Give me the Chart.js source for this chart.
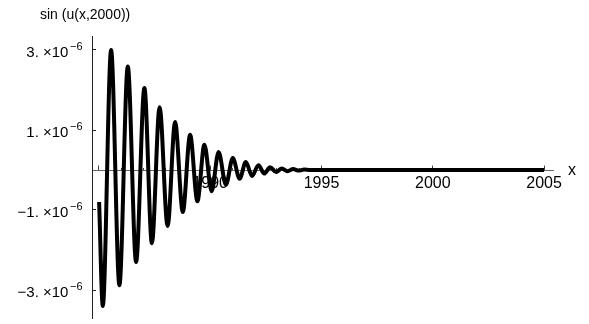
<!DOCTYPE html>
<html><head><meta charset="utf-8">
<script src="https://cdn.jsdelivr.net/npm/chart.js@4/dist/chart.umd.min.js"></script>
<style>html,body{margin:0;padding:0;background:#fff;}canvas{display:block;}</style>
</head><body>
<canvas id="c" width="589" height="324"></canvas>
<script>
// ---- data ----
const xYears = [1985.01, 1985.175, 1985.548, 1985.921, 1986.298, 1986.671, 1987.044, 1987.381,
  1987.727, 1988.086, 1988.423, 1988.769, 1989.097, 1989.425, 1989.739, 1990.063, 1990.377,
  1990.705, 1991.015, 1991.321, 1991.599, 1991.882, 1992.165, 1992.430, 1992.691, 1992.960,
  1993.217, 1993.473, 1993.724, 1993.976, 1994.218, 1994.488, 2005];
const sinValues = [-0.8e-6, -3.4e-6, 3.0e-6, -2.88e-6, 2.59e-6, -2.3e-6, 2.05e-6, -1.83e-6,
  1.57e-6, -1.4e-6, 1.2e-6, -1.05e-6, 0.88e-6, -0.78e-6, 0.63e-6, -0.53e-6, 0.45e-6,
  -0.37e-6, 0.3e-6, -0.22e-6, 0.2e-6, -0.15e-6, 0.12e-6, -0.09e-6, 0.07e-6, -0.05e-6,
  0.04e-6, -0.03e-6, 0.025e-6, -0.015e-6, 0.01e-6, 0, 0];
const yTickValues = [-3e-6, -1e-6, 1e-6, 3e-6];
const yTickMantissas = ['\u22123.', '\u22121.', '1.', '3.'];
const yTickExponent = '\u22126';
const xLabelYears = [1990, 1995, 2000, 2005];
const xMinorStep = 1;
const xMajorStep = 5;
const xRange = [1984.69, 2005.4];
const yRange = [-3.7e-6, 3.35e-6];
const plotTitle = 'sin (u(x,2000))';
const xAxisTitle = 'x';

const points = xYears.map((x, i) => ({x: x, y: sinValues[i]}));

const FONT = '"Liberation Sans", Arial, sans-serif';

const labelsPlugin = {
  id: 'mmaLabels',
  afterDraw(chart) {
    const ctx = chart.ctx;
    const ys = chart.scales.y;
    const xs = chart.scales.x;
    ctx.save();
    ctx.fillStyle = '#000';
    ctx.textBaseline = 'alphabetic';
    ys.ticks.forEach((t) => {
      const idx = yTickValues.indexOf(t.value);
      if (idx < 0) return;
      const py = ys.getPixelForValue(t.value);
      ctx.textAlign = 'right';
      ctx.font = '11px ' + FONT;
      const supW = ctx.measureText(yTickExponent).width;
      ctx.fillText(yTickExponent, 82.5, py - 0.5);
      ctx.font = '15px ' + FONT;
      ctx.fillText(yTickMantissas[idx] + ' \u00d710', 82.5 - supW - 1.5, py + 6.5);
    });
    ctx.textAlign = 'left';
    ctx.font = '14px ' + FONT;
    ctx.fillText(plotTitle, 40, 18.5);
    ctx.font = '16px ' + FONT;
    ctx.fillText(xAxisTitle, xs.right + 15, ys.getPixelForValue(0) + 5);
    ctx.restore();
  }
};

new Chart(document.getElementById('c'), {
  type: 'line',
  data: {
    datasets: [{
      data: points,
      borderColor: '#000',
      borderWidth: 4,
      pointRadius: 0,
      fill: false,
      cubicInterpolationMode: 'monotone',
      borderCapStyle: 'butt',
      borderJoinStyle: 'round'
    }]
  },
  options: {
    responsive: false,
    animation: false,
    devicePixelRatio: 1,
    layout: {padding: {left: 0, top: 36, right: 36, bottom: 6}},
    plugins: {legend: {display: false}, tooltip: {enabled: false}, title: {display: false}},
    scales: {
      x: {
        type: 'linear', axis: 'x',
        min: xRange[0], max: xRange[1],
        position: {y: 0},
        border: {display: true, color: '#666', width: 1},
        grid: {drawOnChartArea: false, drawTicks: true, tickLength: -3, tickColor: '#444', tickWidth: 1},
        ticks: {stepSize: xMinorStep, includeBounds: false, autoSkip: false, maxRotation: 0,
          callback: () => ''}
      },
      x2: {
        type: 'linear', axis: 'x',
        min: xRange[0], max: xRange[1],
        position: {y: 0},
        border: {display: false},
        grid: {drawOnChartArea: false, drawTicks: true, tickLength: -4.5, tickColor: '#444', tickWidth: 1},
        ticks: {stepSize: xMajorStep, includeBounds: false, autoSkip: false, maxRotation: 0,
          padding: 8, color: '#000', font: {family: FONT, size: 16},
          callback: (v) => xLabelYears.includes(v) ? String(v) : ''}
      },
      y: {
        type: 'linear', position: 'left',
        min: yRange[0], max: yRange[1],
        afterFit: (scale) => { scale.width = 92; },
        afterBuildTicks: (scale) => { scale.ticks = yTickValues.map(v => ({value: v})); },
        border: {display: true, color: '#222', width: 1},
        grid: {drawOnChartArea: false, drawTicks: true, tickLength: -4, tickColor: '#222', tickWidth: 1},
        ticks: {display: false}
      }
    }
  },
  plugins: [labelsPlugin]
});
</script>
</body></html>
